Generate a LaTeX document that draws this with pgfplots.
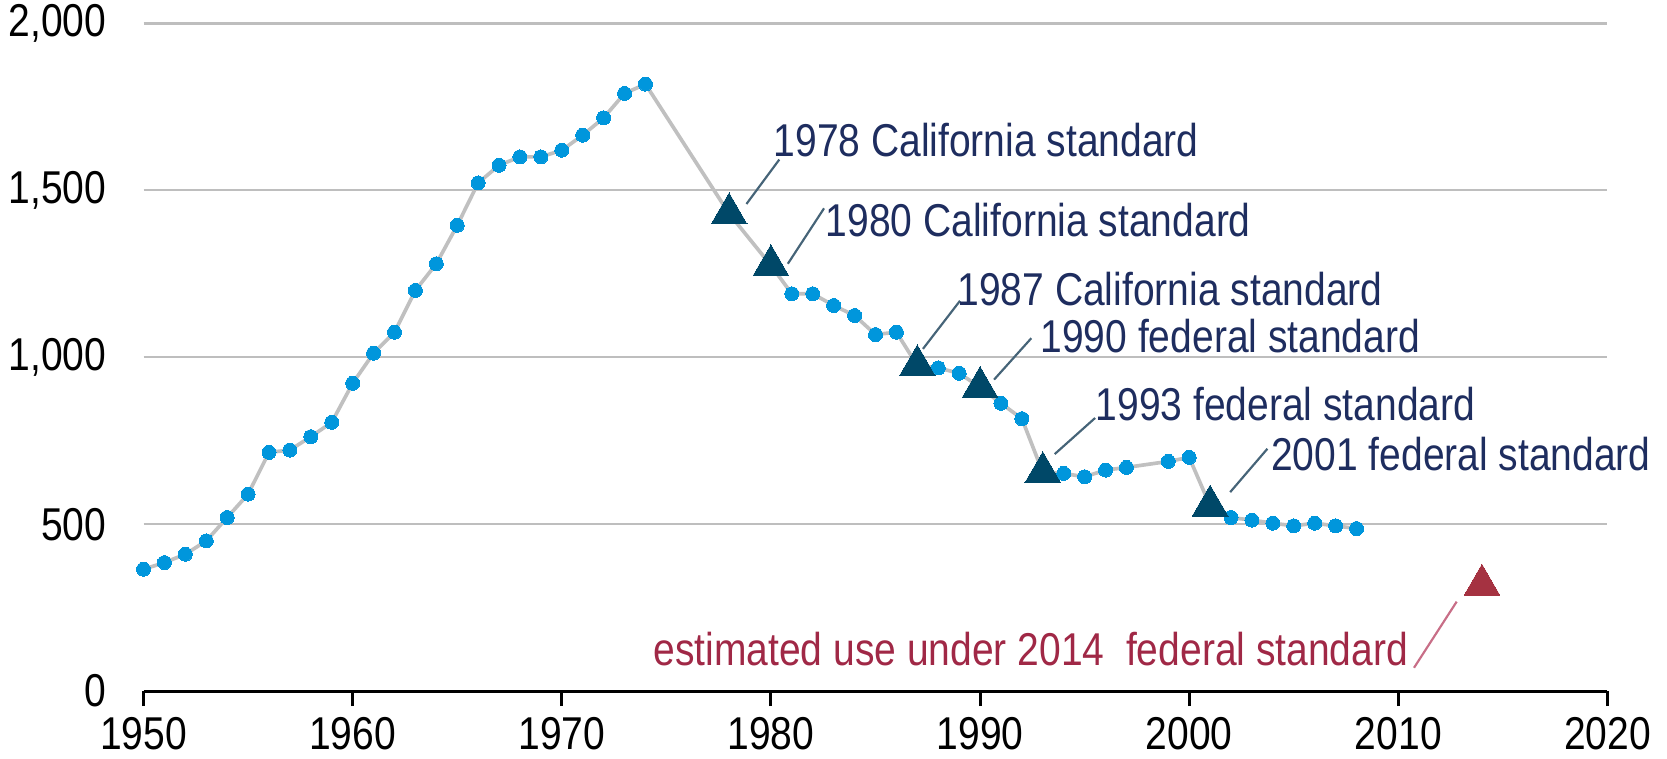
\documentclass[border=0pt]{standalone}
\usepackage{fontspec}
\setmainfont{Liberation Sans}
\usepackage{graphicx}
\usepackage{pgfplots}
\usepackage{pgfplotstable}
\pgfplotsset{compat=1.18}
\definecolor{dotblue}{RGB}{0,150,220}
\definecolor{trinavy}{RGB}{0,72,104}
\definecolor{trired}{RGB}{165,50,65}
\definecolor{linegray}{RGB}{192,192,192}
\definecolor{gridgray}{RGB}{190,190,190}
\definecolor{labnavy}{RGB}{30,45,95}
\definecolor{leader}{RGB}{70,100,120}
\definecolor{labred}{RGB}{160,40,70}
\definecolor{leadred}{RGB}{200,110,135}
\newcommand\vs[1]{\scalebox{1}[1.18]{#1}}

\pgfplotstableread{
year use
1950 365
1951 385
1952 410
1953 450
1954 520
1955 590
1956 715
1957 722
1958 762
1959 805
1960 922
1961 1012
1962 1075
1963 1200
1964 1280
1965 1395
1966 1522
1967 1575
1968 1600
1969 1600
1970 1620
1971 1665
1972 1717
1973 1790
1974 1818
1978 1430
1980 1275
1981 1190
1982 1190
1983 1155
1984 1125
1985 1068
1986 1075
1987 975
1988 968
1989 952
1990 910
1991 862
1992 816
1993 655
1994 652
1995 642
1996 662
1997 670
1999 688
2000 700
2001 555
2002 520
2003 512
2004 503
2005 495
2006 503
2007 495
2008 487
}\alldata

\pgfplotstableread{
year use
1950 365
1951 385
1952 410
1953 450
1954 520
1955 590
1956 715
1957 722
1958 762
1959 805
1960 922
1961 1012
1962 1075
1963 1200
1964 1280
1965 1395
1966 1522
1967 1575
1968 1600
1969 1600
1970 1620
1971 1665
1972 1717
1973 1790
1974 1818
1981 1190
1982 1190
1983 1155
1984 1125
1985 1068
1986 1075
1988 968
1989 952
1991 862
1992 816
1994 652
1995 642
1996 662
1997 670
1999 688
2000 700
2002 520
2003 512
2004 503
2005 495
2006 503
2007 495
2008 487
}\dotdata

\pgfplotstableread{
year use
1978 1430
1980 1275
1987 975
1990 910
1993 655
2001 555
}\stddata

\pgfplotstableread{
year use
2014 318
}\estdata

\begin{document}
\begin{tikzpicture}
\useasboundingbox (-43.05pt,-20.1pt) rectangle (456.95pt,207.3pt);
\begin{axis}[
  at={(0,0)}, anchor=south west, scale only axis,
  width=439.1pt, height=200.3pt,
  xmin=1950, xmax=2020, ymin=0, ymax=2000,
  clip=false,
  axis x line*=bottom, axis y line*=left,
  y axis line style={draw=none},
  x axis line style={black, line width=0.9pt, -},
  xtick={1950,1960,1970,1980,1990,2000,2010,2020},
  xticklabels={\vs{1950},\vs{1960},\vs{1970},\vs{1980},\vs{1990},\vs{2000},\vs{2010},\vs{2020}},
  ytick={0,500,1000,1500,2000},
  yticklabels={\vs{0},\vs{500},\vs{1,000},\vs{1,500},\vs{2,000}},
  xtick align=outside,
  xtick style={black, line width=0.9pt},
  major tick length=4.5pt,
  ytick style={draw=none},
  ymajorgrids, grid style={gridgray, line width=0.7pt},
  ticklabel style={font=\fontsize{11.7}{14}\selectfont, text=black},
  yticklabel style={anchor=east, inner sep=0pt, xshift=-11pt},
  xticklabel style={anchor=north, inner sep=0pt, yshift=-3.2pt},
]
\addplot[linegray, line width=1.1pt, no markers] table[x=year,y=use]{\alldata};
\addplot[only marks, color=dotblue, mark=*, mark size=2.1pt, mark options={solid, draw=dotblue, fill=dotblue, line width=0pt}] table[x=year,y=use]{\dotdata};
\addplot[only marks, color=trinavy, mark=triangle*, mark size=6.2pt, mark options={solid, draw=trinavy, fill=trinavy, line width=0pt}] table[x=year,y=use]{\stddata};
\addplot[only marks, color=trired, mark=triangle*, mark size=6.2pt, mark options={solid, draw=trired, fill=trired, line width=0pt}] table[x=year,y=use]{\estdata};

% leader lines
\draw[leader, line width=0.65pt] (axis cs:1978.83,1459) -- (axis cs:1980.40,1592);
\draw[leader, line width=0.65pt] (axis cs:1980.81,1280) -- (axis cs:1982.54,1446);
\draw[leader, line width=0.65pt] (axis cs:1987.27,1025) -- (axis cs:1989.04,1169);
\draw[leader, line width=0.65pt] (axis cs:1990.67,933) -- (axis cs:1992.45,1057);
\draw[leader, line width=0.65pt] (axis cs:1993.57,710) -- (axis cs:1995.50,818);
\draw[leader, line width=0.65pt] (axis cs:2001.96,596) -- (axis cs:2003.74,726);
\draw[leadred, line width=0.65pt] (axis cs:2010.75,70) -- (axis cs:2012.79,268);

% labels
\begin{scope}[every node/.style={inner sep=0pt, font=\fontsize{11.7}{14}\selectfont}]
\node[anchor=west, text=labnavy] at (axis cs:1980.10,1650) {\vs{1978 California standard}};
\node[anchor=west, text=labnavy] at (axis cs:1982.59,1411) {\vs{1980 California standard}};
\node[anchor=west, text=labnavy] at (axis cs:1988.89,1204) {\vs{1987 California standard}};
\node[anchor=west, text=labnavy] at (axis cs:1992.86,1064) {\vs{1990 federal standard}};
\node[anchor=west, text=labnavy] at (axis cs:1995.50,860) {\vs{1993 federal standard}};
\node[anchor=west, text=labnavy] at (axis cs:2003.89,710) {\vs{2001 federal standard}};
\node[anchor=east, text=labred] at (axis cs:2010.50,127) {\vs{estimated use under 2014\ \ federal standard}};
\end{scope}
\end{axis}
\end{tikzpicture}
\end{document}
